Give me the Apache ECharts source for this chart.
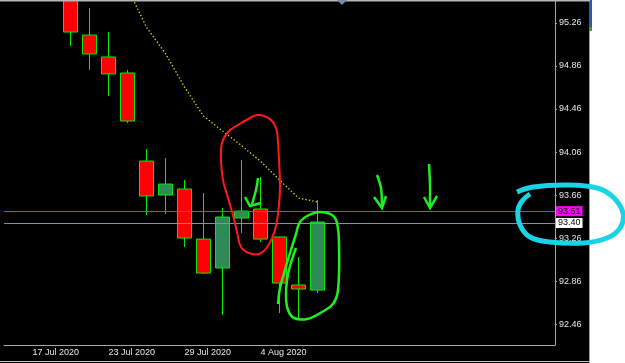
<!DOCTYPE html>
<html>
<head>
<meta charset="utf-8">
<script src="https://cdn.jsdelivr.net/npm/echarts@6/dist/echarts.min.js"></script>
<style>
html,body{margin:0;padding:0;background:#fff;}
#chart{width:625px;height:363px;}
</style>
</head>
<body>
<div id="chart"></div>
<script>
// trading days (last 12 are the empty space on the right)
var dates = ['16 Jul 2020','17 Jul 2020','20 Jul 2020','21 Jul 2020','22 Jul 2020','23 Jul 2020','24 Jul 2020',
	'27 Jul 2020','28 Jul 2020','29 Jul 2020','30 Jul 2020','31 Jul 2020','3 Aug 2020','4 Aug 2020','5 Aug 2020',
	'6 Aug 2020','7 Aug 2020','10 Aug 2020','11 Aug 2020','12 Aug 2020','13 Aug 2020','14 Aug 2020','17 Aug 2020',
	'18 Aug 2020','19 Aug 2020','20 Aug 2020','21 Aug 2020','24 Aug 2020','25 Aug 2020'];
var tickDates = ['17 Jul 2020','23 Jul 2020','29 Jul 2020','4 Aug 2020'];
var opens  = [null, null, null, 95.60, 95.148, 94.944, 94.795, 93.976, 93.66, 93.716, 93.25, 92.981, 93.446, 93.53, 93.27, 92.823, 92.776];
var closes = [null, null, null, 95.176, 94.972, 94.786, 94.348, 93.651, 93.762, 93.26, 92.934, 93.455, 93.511, 93.25, 92.841, 92.786, 93.409];
var lows   = [null, null, null, 95.046, 94.823, 94.581, 94.33, 93.474, 93.483, 93.176, 92.925, 92.544, 93.307, 93.223, 92.562, 92.516, 92.748];
var highs  = [null, null, null, 95.65, 95.40, 95.176, 94.823, 94.088, 94.004, 93.80, 93.679, 93.539, 93.985, 93.827, 93.275, 93.083, 93.613];
var ma     = [null, null, null, null, null, 95.95, 95.586, 95.22, 94.976, 94.665, 94.395, 94.255, 94.12, 93.975, 93.80, 93.632, 93.595];
var priceTicks = [92.46, 92.86, 93.26, 93.66, 94.06, 94.46, 94.86, 95.26];
var levelMagenta = 93.51;
var levelGray = 93.40;

var candles = [];
for (var i = 0; i < dates.length; i++) {
	if (opens[i] == null) {
		candles.push('-');
	} else {
		candles.push([opens[i], closes[i], lows[i], highs[i]]);
	}
}

function isTickDate(idx, val) {
	return tickDates.indexOf(val) >= 0;
}

// hand drawn marks on the screenshot (pixels)
var penRed = [[278,142],[276,128],[271,120],[264,116],[257,115],[250,118],[238,125],[228,132],[222,143],[221,160],
	[223,180],[228,198],[233,215],[237,232],[241,247],[249,253],[259,254],[268,246],[275,230],[279,205],[280,185],[279,160],[278,142]];
var penGreenLoop = [[278,304],[280,288],[285,270],[290,253],[296,234],[300,222],[309,215],[320,212],[332,215],[337,223],
	[339,245],[338,290],[333,304],[322,312],[307,319],[294,318],[288,310],[286,296],[287,280],[290,266],[296,248]];
var arrows = [
	[[[258,178],[256,190],[252,204]], [[245,197],[250,206],[261,203]]],
	[[[377,175],[381,188],[382,207]], [[374,197],[382,208],[386,196]]],
	[[[429,164],[430,185],[430,207]], [[424,197],[430,208],[437,196]]]
];
var penCyan = [[517,192],[533,187],[567,185],[597,188],[613,197],[623,213],[620,228],[607,238],[583,243],[550,242],
	[530,237],[520,225],[518,210],[523,200],[530,194]];

var graphics = [
	{type: 'rect', z: 100, shape: {x: 590, y: 0, width: 35, height: 363}, style: {fill: '#fff'}},
	{type: 'rect', z: 101, shape: {x: 589, y: 0, width: 3, height: 27}, style: {fill: '#2a5ca8'}},
	{type: 'rect', z: 101, shape: {x: 589, y: 27, width: 3, height: 4}, style: {fill: '#3c9a3c'}},
	{type: 'line', z: 101, shape: {x1: 589.5, y1: 31, x2: 589.5, y2: 363}, style: {stroke: '#9a9a9a', lineWidth: 1}},
	{type: 'line', z: 101, shape: {x1: 0, y1: 0.5, x2: 590, y2: 0.5}, style: {stroke: '#b8b8b8', lineWidth: 2}},
	{type: 'line', z: 101, shape: {x1: 0, y1: 361.5, x2: 590, y2: 361.5}, style: {stroke: '#c8c8c8', lineWidth: 1}},
	{type: 'polygon', z: 101, shape: {points: [[337,0],[347,0],[342,5]]}, style: {fill: '#7a8ba0'}},
	{type: 'polyline', z: 110, shape: {points: penRed, smooth: 0.4}, style: {stroke: '#ff1a1a', lineWidth: 2, fill: null}},
	{type: 'polyline', z: 110, shape: {points: penGreenLoop, smooth: 0.4}, style: {stroke: '#1ef01e', lineWidth: 2.5, fill: null}},
	{type: 'polyline', z: 110, shape: {points: penCyan, smooth: 0.4}, style: {stroke: '#19d3e6', lineWidth: 5, fill: null}}
];
for (var a = 0; a < arrows.length; a++) {
	graphics.push({type: 'polyline', z: 110, shape: {points: arrows[a][0], smooth: 0.3}, style: {stroke: '#1ef01e', lineWidth: 2.5, fill: null}});
	graphics.push({type: 'polyline', z: 110, shape: {points: arrows[a][1]}, style: {stroke: '#1ef01e', lineWidth: 2.5, fill: null}});
}

var myChart = echarts.init(document.getElementById('chart'));
var option = {
	backgroundColor: '#000',
	animation: false,
	grid: {left: 4, right: 70, top: 0, bottom: 18},
	xAxis: {
		type: 'category',
		data: dates,
		boundaryGap: true,
		axisLine: {lineStyle: {color: '#a8a8a8'}},
		axisTick: {alignWithLabel: true, length: 3, interval: isTickDate, lineStyle: {color: '#a8a8a8'}},
		axisLabel: {interval: isTickDate, align: 'left', margin: 3, color: '#e8e8e8', fontSize: 9, fontFamily: 'Liberation Sans'},
		splitLine: {show: false}
	},
	yAxis: {
		type: 'value',
		position: 'right',
		min: 92.265,
		max: 95.474,
		axisLine: {show: true, lineStyle: {color: '#a8a8a8'}},
		axisTick: {show: true, length: 2, customValues: priceTicks, lineStyle: {color: '#a8a8a8'}},
		axisLabel: {
			customValues: priceTicks, margin: 4, color: '#e8e8e8', fontSize: 9, fontFamily: 'Liberation Sans',
			formatter: function(v) { return v.toFixed(2); }
		},
		splitLine: {show: false}
	},
	series: [
		{
			type: 'line',
			data: ma,
			symbol: 'none',
			z: 1,
			lineStyle: {color: '#e6e600', width: 1.3, type: [1.3, 2.2]}
		},
		{
			type: 'candlestick',
			data: candles,
			barWidth: 14,
			itemStyle: {
				color: '#2e8b57', color0: '#ff0000',
				borderColor: '#00ee00', borderColor0: '#00ee00', borderWidth: 1
			},
			markLine: {
				silent: true,
				symbol: ['none', 'none'],
				animation: false,
				data: [
					{yAxis: levelMagenta, lineStyle: {color: '#ff00ff', width: 1, type: 'solid'},
						label: {backgroundColor: '#ff00ff', color: '#000'}},
					{yAxis: levelGray, lineStyle: {color: '#8490a0', width: 1, type: 'solid'},
						label: {backgroundColor: '#fff', color: '#000'}}
				],
				label: {
					position: 'end', distance: 1, fontSize: 9, fontFamily: 'Liberation Sans', padding: [1, 2, 0, 2],
					formatter: function(p) { return p.value.toFixed(2); }
				}
			}
		}
	],
	graphic: graphics
};
myChart.setOption(option);
</script>
</body>
</html>
